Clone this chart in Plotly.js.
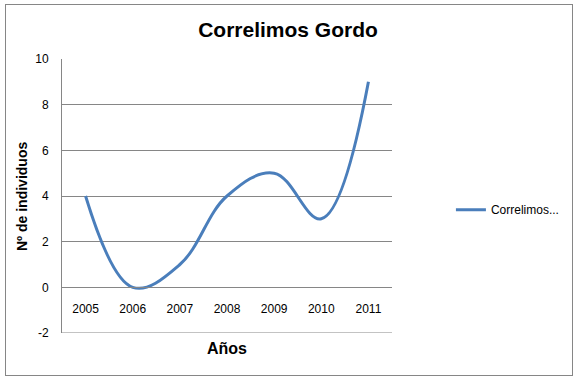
<!DOCTYPE html>
<html>
<head>
<meta charset="utf-8">
<script src="https://cdn.plot.ly/plotly-3.0.1.min.js"></script>
<style>
  html, body { margin: 0; padding: 0; background: #fff; }
  #wrap { position: relative; width: 576px; height: 378px; }
  #chart { position: absolute; left: 0; top: 0; width: 576px; height: 378px; }
  #frame { position: absolute; left: 5px; top: 4px; width: 566px; height: 370px;
           border: 1px solid #868686; pointer-events: none; }
</style>
</head>
<body>
<div id="wrap">
  <div id="chart"></div>
  <div id="frame"></div>
</div>
<script>
// Data
const years = [2005, 2006, 2007, 2008, 2009, 2010, 2011];
const yearLabels = ['2005', '2006', '2007', '2008', '2009', '2010', '2011'];
const values = [4, 0, 1, 4, 5, 3, 9];
const yTicks = [-2, 0, 2, 4, 6, 8, 10];
const yTickLabels = ['-2', '0', '2', '4', '6', '8', '10'];
const seriesName = 'Correlimos...';
const chartTitle = 'Correlimos Gordo';
const xTitle = 'Años';
const yTitle = 'Nº de individuos';

const FONT = 'Liberation Sans, Arial, sans-serif';
const GRID = '#868686';
const BLUE = '#4A7EBB';

const trace = {
  x: years,
  y: values,
  type: 'scatter',
  mode: 'lines',
  name: seriesName,
  line: { color: BLUE, width: 3, shape: 'spline', smoothing: 1.1 },
  showlegend: true
};

const layout = {
  width: 576,
  height: 378,
  margin: { l: 62, r: 183, t: 59, b: 45 },
  paper_bgcolor: 'rgba(0,0,0,0)',
  plot_bgcolor: 'rgba(0,0,0,0)',
  font: { family: FONT, color: '#000', size: 12 },
  title: {
    text: '<b>' + chartTitle + '</b>',
    font: { family: FONT, size: 21, color: '#000' },
    x: 0.5, xref: 'container', xanchor: 'center',
    y: 1 - 30 / 378, yref: 'container', yanchor: 'middle'
  },
  xaxis: {
    type: 'linear',
    range: [2004.5, 2011.5],
    tickvals: years,
    ticktext: yearLabels,
    showgrid: false,
    zeroline: false,
    showline: true,
    linecolor: GRID,
    linewidth: 1,
    ticks: '',
    anchor: 'free',
    position: 2 / 12,
    ticklabelstandoff: 10,
    tickfont: { family: FONT, size: 12, color: '#000' },
    fixedrange: true
  },
  yaxis: {
    range: [-2, 10],
    tickvals: yTicks,
    ticktext: yTickLabels,
    showgrid: true,
    gridcolor: GRID,
    gridwidth: 1,
    zeroline: false,
    showline: true,
    linecolor: GRID,
    linewidth: 1,
    ticks: '',
    ticklabelstandoff: 10,
    tickfont: { family: FONT, size: 12, color: '#000' },
    fixedrange: true
  },
  shapes: [
    {
      type: 'line', xref: 'paper', yref: 'y',
      x0: 0, x1: 1, y0: yTicks[0], y1: yTicks[0],
      line: { color: GRID, width: 1 }
    }
  ],
  legend: {
    x: 1.175, xanchor: 'left',
    y: 0.45, yanchor: 'middle',
    font: { family: FONT, size: 12, color: '#000' },
    bgcolor: 'rgba(0,0,0,0)'
  },
  annotations: [
    {
      text: '<b>' + xTitle + '</b>',
      xref: 'paper', yref: 'paper',
      x: 0.5, y: -(348 - 333) / 274,
      xanchor: 'center', yanchor: 'middle',
      showarrow: false,
      font: { family: FONT, size: 16, color: '#000' }
    },
    {
      text: '<b>' + yTitle + '</b>',
      xref: 'paper', yref: 'paper',
      x: (22 - 62) / 331, y: 0.5,
      xanchor: 'center', yanchor: 'middle',
      textangle: -90,
      showarrow: false,
      font: { family: FONT, size: 14, color: '#000' }
    }
  ]
};

Plotly.newPlot('chart', [trace], layout, { displayModeBar: false, staticPlot: true });
</script>
</body>
</html>
